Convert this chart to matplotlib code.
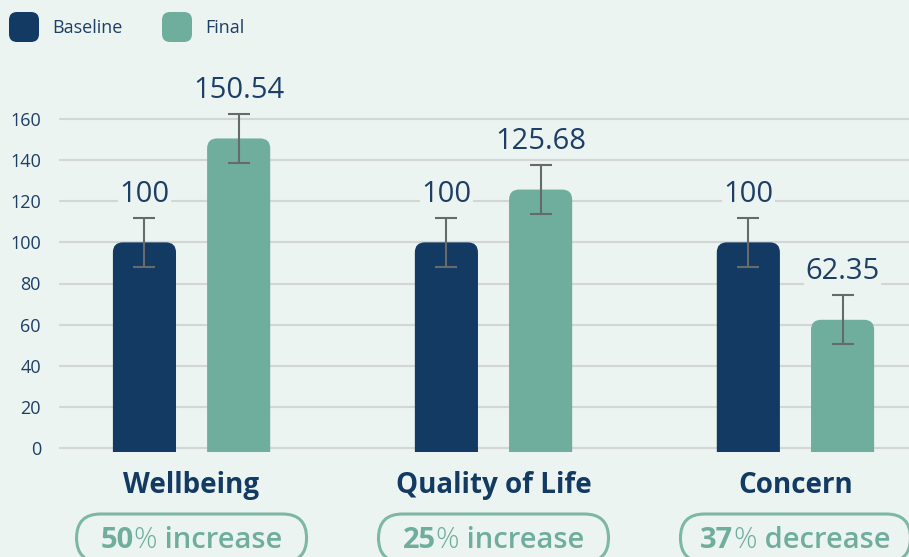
import matplotlib
matplotlib.use('Agg')
import matplotlib.pyplot as plt
from matplotlib.patches import FancyBboxPatch
from matplotlib.transforms import IdentityTransform
import numpy as np

# data
categories = ['Wellbeing', 'Quality of Life', 'Concern']
baseline = [100, 100, 100]
final = [150.54, 125.68, 62.35]
baseline_err = [12, 12, 12]
final_err = [12, 12, 12]
change_pct = [50, 25, 37]
change_word = ['increase', 'increase', 'decrease']
y_ticks = [0, 20, 40, 60, 80, 100, 120, 140, 160]
series_names = ['Baseline', 'Final']

# colours / fonts
BG = '#ecf4f1'
NAVY = '#133a63'
TEAL = '#6fae9c'
TEXT = '#1d3f66'
GRID = '#d3d6d5'
ERR = '#666a6a'
plt.rcParams['font.family'] = ['Open Sans', 'DejaVu Sans']

W, H = 909, 557
fig = plt.figure(figsize=(W / 100, H / 100), dpi=100, facecolor=BG)
# axes placed in pixels: y=0 at 448 px from top, 2.056 px per unit
ymin, ymax = -2, 173
ppu = 329 / 160
bottom_px = 448 + (0 - ymin) * ppu
top_px = 448 - ymax * ppu
ax = fig.add_axes([59 / W, (H - bottom_px) / H, 850 / W, (bottom_px - top_px) / H])
ax.set_facecolor(BG)
ax.set_xlim(-0.439, 2.376)
ax.set_ylim(ymin, ymax)
for s in ax.spines.values():
    s.set_visible(False)
ax.set_yticks(y_ticks)
ax.set_xticks([])
ax.tick_params(axis='y', length=0, pad=13, labelsize=13, labelcolor=TEXT)
ax.grid(axis='y', color=GRID, linewidth=1.5)
ax.set_axisbelow(True)

x = np.arange(len(categories))
offset = 0.156
bar_w = 0.209

# rounded tops: radius in pixels converted to data units
px_x = ax.transData.transform((1, 0))[0] - ax.transData.transform((0, 0))[0]
px_y = ax.transData.transform((0, 1))[1] - ax.transData.transform((0, 0))[1]
radius = 10 / px_x
aspect = px_x / px_y

for vals, errs, col, sign in [(baseline, baseline_err, NAVY, -1), (final, final_err, TEAL, 1)]:
    xs = x + sign * offset
    for xi, v in zip(xs, vals):
        p = FancyBboxPatch((xi - bar_w / 2, -15), bar_w, v + 15,
                           boxstyle=f'round,pad=0,rounding_size={radius}',
                           mutation_aspect=aspect, facecolor=col, edgecolor='none', zorder=2)
        ax.add_patch(p)
    ax.errorbar(xs, vals, yerr=errs, fmt='none', ecolor=ERR, elinewidth=1.5,
                capsize=8, capthick=1.5, zorder=3)
    for xi, v, e in zip(xs, vals, errs):
        ax.text(xi, v + e + 11.3, f'{v:g}', ha='center', va='center', fontsize=21,
                color=TEXT, zorder=4,
                bbox=dict(facecolor=BG, edgecolor='none', pad=1))

# category labels and change pills
renderer = fig.canvas.get_renderer()
ident = IdentityTransform()
for i, cat in enumerate(categories):
    cx = ax.transData.transform((x[i], 0))[0]
    fig.text(cx, 64, cat, ha='center', va='baseline', fontsize=20,
             fontweight='bold', color=NAVY, transform=ident)
    pill = FancyBboxPatch((cx - 115, -5), 230, 48,
                          boxstyle='round,pad=0,rounding_size=24',
                          facecolor='none', edgecolor='#7db7a6', linewidth=2.2,
                          transform=ident)
    fig.add_artist(pill)
    parts = [(f'{change_pct[i]}', 'bold'), ('%', 'light'), (f' {change_word[i]}', 'semibold')]
    texts = []
    for s, wt in parts:
        t = fig.text(0, 9, s, fontsize=21, fontweight=wt, color=TEAL,
                     va='baseline', transform=ident)
        texts.append(t)
    widths = [t.get_window_extent(renderer).width for t in texts]
    left = cx - sum(widths) / 2
    for t, w in zip(texts, widths):
        t.set_x(left)
        left += w

# legend
for name, col, lx in zip(series_names, [NAVY, TEAL], [9, 162]):
    sq = FancyBboxPatch((lx, H - 42), 30, 30, boxstyle='round,pad=0,rounding_size=8',
                        facecolor=col, edgecolor='none', transform=ident)
    fig.add_artist(sq)
    fig.text(lx + 43, H - 28, name, va='center', fontsize=13, color=TEXT,
             transform=ident)

fig.savefig('out.png', dpi=100, facecolor=BG)
